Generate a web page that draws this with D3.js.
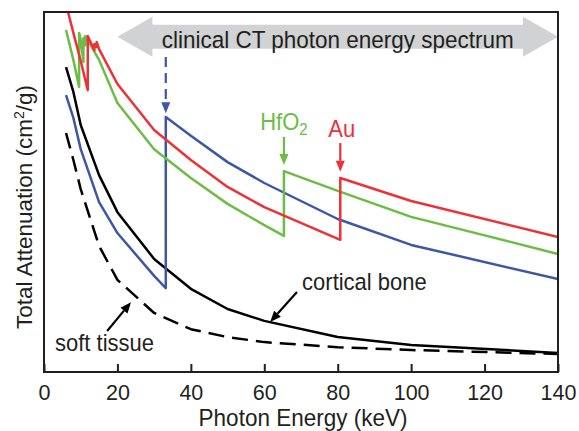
<!DOCTYPE html>
<meta charset="utf-8">
<style>
  body { margin: 0; background: #fff; }
  text { font-family: 'Liberation Sans', Arial, sans-serif; fill: #231f20; }
</style>
<body>
<script src="https://d3js.org/d3.v7.min.js"></script>
<script>

// photon energy (keV) and attenuation (arbitrary units)
// K- and L-edges appear twice: value just below, then just above the edge
var auE   = [6, 8, 10, 11.92, 11.92, 13.73, 13.73, 14.35, 14.35, 15, 20, 30, 40, 50, 60, 80.7, 80.7, 100, 140];
var auV   = [10.22, 9.42, 8.64, 7.83, 9.33, 8.94, 9.11, 9.03, 9.17, 8.97, 8.0, 6.72, 5.89, 5.14, 4.58, 3.67, 5.39, 4.75, 3.75];

var hfE   = [6, 8, 9.56, 9.56, 10, 10.74, 10.74, 11.27, 11.27, 15, 20, 30, 40, 50, 60, 65.35, 65.35, 80, 100, 140];
var hfV   = [9.5, 8.67, 7.92, 9.42, 9.22, 8.61, 9.28, 9.08, 9.33, 8.67, 7.47, 6.19, 5.39, 4.67, 4.08, 3.78, 5.58, 5.03, 4.31, 3.28];

var iE    = [6, 8, 10, 15, 20, 30, 33.17, 33.17, 40, 50, 60, 80, 100, 140];
var iV    = [7.69, 7.06, 6.19, 4.72, 3.86, 2.67, 2.33, 7.08, 6.56, 5.83, 5.25, 4.25, 3.53, 2.58];

var boneE = [6, 8, 10, 15, 20, 30, 40, 50, 60, 80, 100, 140];
var boneV = [8.47, 7.78, 6.86, 5.47, 4.44, 3.14, 2.31, 1.75, 1.42, 0.97, 0.75, 0.53];

var softE = [6, 8, 10, 15, 20, 30, 40, 50, 60, 80, 100, 140];
var softV = [6.64, 5.89, 5.08, 3.5, 2.56, 1.64, 1.19, 0.97, 0.83, 0.69, 0.61, 0.5];

var xTicks = [0, 20, 40, 60, 80, 100, 120, 140];

var W = 579, H = 431;
var margin = {top: 12, right: 21, bottom: 59, left: 44},
    width = W - margin.left - margin.right,
    height = H - margin.top - margin.bottom;

var x = d3.scaleLinear().domain([0, 140]).range([0, width]);
var y = d3.scaleLinear().domain([0, 10]).range([height, 0]);

var svg = d3.select("body").append("svg")
    .attr("width", W)
    .attr("height", H);

var g = svg.append("g")
    .attr("transform", "translate(" + margin.left + "," + margin.top + ")");

g.append("clipPath").attr("id", "plot")
  .append("rect").attr("width", width).attr("height", height);

// text is a bit taller than wide in the original
function label(sel, px, py, str, size, anchor, fill) {
  return sel.append("text")
      .attr("transform", "translate(" + px + "," + py + ") scale(1,1.08)")
      .attr("text-anchor", anchor || "start")
      .style("font-size", size + "px")
      .style("fill", fill || "#231f20")
      .text(str);
}

function arrow(sel, x1, y1, x2, y2, color, dash) {
  var ang = Math.atan2(y2 - y1, x2 - x1), len = 11, half = 4.5;
  var bx = x2 - len * Math.cos(ang), by = y2 - len * Math.sin(ang);
  sel.append("line")
      .attr("x1", x1).attr("y1", y1).attr("x2", bx).attr("y2", by)
      .attr("stroke", color).attr("stroke-width", 2.2)
      .attr("stroke-dasharray", dash || null);
  sel.append("path")
      .attr("d", "M" + x2 + "," + y2 +
                 "L" + (bx + half * Math.sin(ang)) + "," + (by - half * Math.cos(ang)) +
                 "L" + (bx - half * Math.sin(ang)) + "," + (by + half * Math.cos(ang)) + "Z")
      .attr("fill", color);
}

// grey double arrow: clinical CT range 20-140 keV
var ax1 = x(20), ax2 = x(140), ay = y(9.31), head = 35;
g.append("path")
    .attr("d", "M" + ax1 + "," + ay +
               "L" + (ax1 + head) + "," + (ay - 20) + "L" + (ax1 + head) + "," + (ay - 12) +
               "L" + (ax2 - head) + "," + (ay - 12) + "L" + (ax2 - head) + "," + (ay - 20) +
               "L" + ax2 + "," + ay +
               "L" + (ax2 - head) + "," + (ay + 20) + "L" + (ax2 - head) + "," + (ay + 12) +
               "L" + (ax1 + head) + "," + (ay + 12) + "L" + (ax1 + head) + "," + (ay + 20) + "Z")
    .attr("fill", "#d1d2d4");
label(g, x(80), y(9.0), "clinical CT photon energy spectrum", 22.5, "middle");

// curves
var series = [
  {e: softE, v: softV, color: "#000", dash: "16,8"},
  {e: boneE, v: boneV, color: "#000"},
  {e: iE,    v: iV,    color: "#3d57a7"},
  {e: hfE,   v: hfV,   color: "#6cbd45"},
  {e: auE,   v: auV,   color: "#ec3237"}
];

var line = d3.line()
    .x(function(d) { return x(d[0]); })
    .y(function(d) { return y(d[1]); });

g.append("g").attr("clip-path", "url(#plot)")
  .selectAll("path")
  .data(series)
  .enter().append("path")
    .attr("d", function(s) { return line(d3.zip(s.e, s.v)); })
    .attr("fill", "none")
    .attr("stroke", function(s) { return s.color; })
    .attr("stroke-width", 2.5)
    .attr("stroke-linejoin", "round")
    .attr("stroke-dasharray", function(s) { return s.dash || null; });

// edge markers
arrow(g, x(33.17), y(8.75), x(33.17), y(7.19), "#3d57a7", "10,6");
arrow(g, x(65.35), y(6.53), x(65.35), y(5.75), "#6cbd45");
arrow(g, x(80.7), y(6.36), x(80.7), y(5.56), "#ec3237");

var hf = g.append("text")
    .attr("transform", "translate(" + x(65.35) + "," + y(6.72) + ") scale(1,1.08)")
    .attr("text-anchor", "middle")
    .style("font-size", "22px")
    .style("fill", "#6cbd45");
hf.append("tspan").text("HfO").style("fill", "#6cbd45");
hf.append("tspan").text("2").attr("dy", 5).style("font-size", "15px").style("fill", "#6cbd45");
label(g, x(81.1), y(6.53), "Au", 22, "middle", "#ec3237");

// tissue labels
label(g, x(70.3), y(2.28), "cortical bone", 22);
arrow(g, x(68.9), y(2.22), x(61.6), y(1.39), "#000");
label(g, x(3.0), y(0.58), "soft tissue", 22);
arrow(g, x(17.2), y(1.14), x(23.7), y(1.94), "#000");

// frame and axis
g.append("rect")
    .attr("width", width).attr("height", height)
    .attr("fill", "none").attr("stroke", "#231f20").attr("stroke-width", 2);

var xAxis = g.append("g")
    .attr("transform", "translate(0," + height + ")")
    .call(d3.axisBottom(x).tickValues(xTicks).tickSize(-8).tickPadding(13).tickSizeOuter(0));
xAxis.select(".domain").remove();
xAxis.selectAll("line").attr("stroke", "#231f20").attr("stroke-width", 2);
xAxis.selectAll("text")
    .style("font-size", "21.5px")
    .style("font-family", "'Liberation Sans', Arial, sans-serif")
    .style("fill", "#231f20");

label(g, width / 2 + 2, height + 54, "Photon Energy (keV)", 22.5, "middle");

var yl = g.append("text")
    .attr("transform", "translate(-12,195) rotate(-90)")
    .attr("text-anchor", "middle")
    .style("font-size", "22.5px");
yl.append("tspan").text("Total Attenuation (cm");
yl.append("tspan").text("2").attr("dy", -8).style("font-size", "14px");
yl.append("tspan").text("/g)").attr("dy", 8);

</script>
</body>
